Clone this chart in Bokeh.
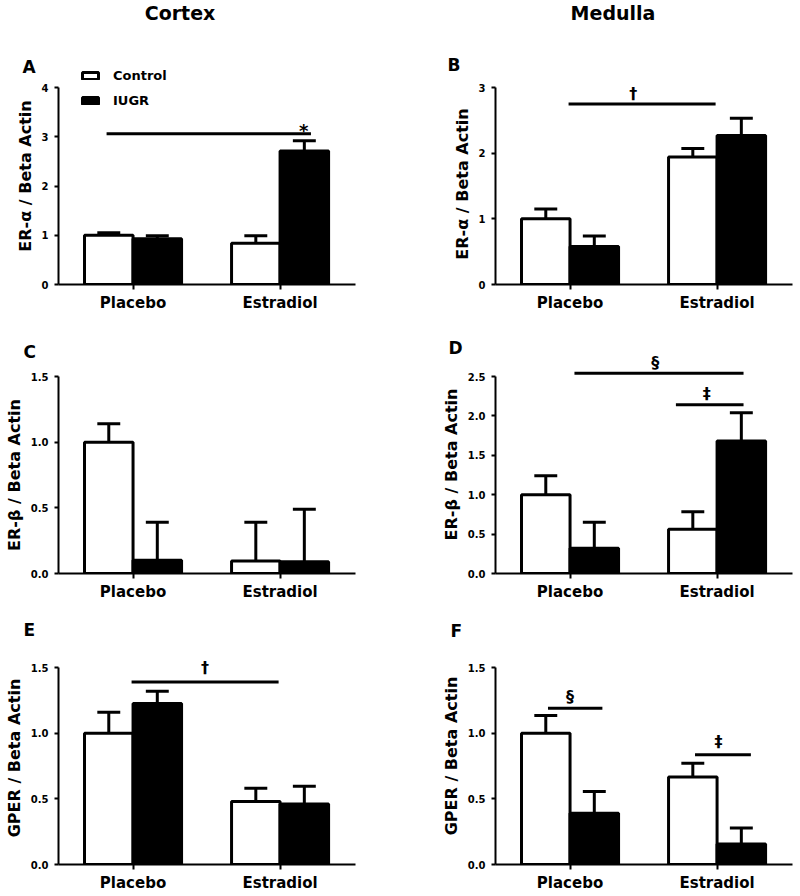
from bokeh.plotting import figure
from bokeh.layouts import column, row
from bokeh.models import (ColumnDataSource, FixedTicker, Label, Legend, LegendItem,
                          NumeralTickFormatter, Range1d, Title, Div)
from bokeh.embed import file_html
from bokeh.resources import INLINE

# ---------------- data ----------------
groups = ["Placebo", "Estradiol"]
series = ["Control", "IUGR"]
col_titles = ["Cortex", "Medulla"]

# A: ER-alpha, cortex
a_control = [1.00, 0.84]
a_control_sem = [0.05, 0.15]
a_iugr = [0.93, 2.71]
a_iugr_sem = [0.06, 0.21]
a_yticks = [0, 1, 2, 3, 4]
a_sig_lines = [(0.82, 2.21, 3.06)]
a_sig_marks = [("*", 2.16, 3.13)]

# B: ER-alpha, medulla
b_control = [1.00, 1.94]
b_control_sem = [0.15, 0.13]
b_iugr = [0.58, 2.27]
b_iugr_sem = [0.16, 0.26]
b_yticks = [0, 1, 2, 3]
b_sig_lines = [(0.99, 1.99, 2.75)]
b_sig_marks = [("†", 1.43, 2.91)]

# C: ER-beta, cortex
c_control = [1.00, 0.095]
c_control_sem = [0.14, 0.295]
c_iugr = [0.10, 0.09]
c_iugr_sem = [0.29, 0.40]
c_yticks = [0.0, 0.5, 1.0, 1.5]
c_sig_lines = []
c_sig_marks = []

# D: ER-beta, medulla
d_control = [1.00, 0.56]
d_control_sem = [0.24, 0.225]
d_iugr = [0.32, 1.68]
d_iugr_sem = [0.33, 0.36]
d_yticks = [0.0, 0.5, 1.0, 1.5, 2.0, 2.5]
d_sig_lines = [(1.03, 2.18, 2.54), (1.72, 2.18, 2.14)]
d_sig_marks = [("§", 1.58, 2.68), ("‡", 1.93, 2.29)]

# E: GPER, cortex
e_control = [1.00, 0.48]
e_control_sem = [0.16, 0.10]
e_iugr = [1.225, 0.46]
e_iugr_sem = [0.095, 0.135]
e_yticks = [0.0, 0.5, 1.0, 1.5]
e_sig_lines = [(0.99, 1.99, 1.39)]
e_sig_marks = [("†", 1.49, 1.50)]

# F: GPER, medulla
f_control = [1.00, 0.666]
f_control_sem = [0.135, 0.104]
f_iugr = [0.39, 0.157]
f_iugr_sem = [0.165, 0.12]
f_yticks = [0.0, 0.5, 1.0, 1.5]
f_sig_lines = [(0.85, 1.22, 1.19), (1.85, 2.23, 0.835)]
f_sig_marks = [("§", 1.00, 1.28), ("‡", 2.01, 0.936)]

panels = [
    dict(letter="A", ylabel="ER-α / Beta Actin", yticks=a_yticks, fmt="0",
         ctrl=a_control, ctrl_sem=a_control_sem, iugr=a_iugr, iugr_sem=a_iugr_sem,
         lines=a_sig_lines, marks=a_sig_marks, col=0, row=0),
    dict(letter="B", ylabel="ER-α / Beta Actin", yticks=b_yticks, fmt="0",
         ctrl=b_control, ctrl_sem=b_control_sem, iugr=b_iugr, iugr_sem=b_iugr_sem,
         lines=b_sig_lines, marks=b_sig_marks, col=1, row=0),
    dict(letter="C", ylabel="ER-β / Beta Actin", yticks=c_yticks, fmt="0.0",
         ctrl=c_control, ctrl_sem=c_control_sem, iugr=c_iugr, iugr_sem=c_iugr_sem,
         lines=c_sig_lines, marks=c_sig_marks, col=0, row=1),
    dict(letter="D", ylabel="ER-β / Beta Actin", yticks=d_yticks, fmt="0.0",
         ctrl=d_control, ctrl_sem=d_control_sem, iugr=d_iugr, iugr_sem=d_iugr_sem,
         lines=d_sig_lines, marks=d_sig_marks, col=1, row=1),
    dict(letter="E", ylabel="GPER / Beta Actin", yticks=e_yticks, fmt="0.0",
         ctrl=e_control, ctrl_sem=e_control_sem, iugr=e_iugr, iugr_sem=e_iugr_sem,
         lines=e_sig_lines, marks=e_sig_marks, col=0, row=2),
    dict(letter="F", ylabel="GPER / Beta Actin", yticks=f_yticks, fmt="0.0",
         ctrl=f_control, ctrl_sem=f_control_sem, iugr=f_iugr, iugr_sem=f_iugr_sem,
         lines=f_sig_lines, marks=f_sig_marks, col=1, row=2),
]

# ---------------- layout / style ----------------
FONT = "DejaVu Sans"
FRAME_H = 197
BAR_W = 0.33
CAP = 0.078
HEAD_H = 26
col_geom = [dict(width=400, left=58, right=45), dict(width=400, left=95, right=8)]
row_geom = [dict(height=288, top=61, bottom=30),
            dict(height=289, top=62, bottom=30),
            dict(height=291, top=64, bottom=30)]
# extra frame space above the axis top (px), letter offset / standoff
extra = {"A": 20, "B": 4, "C": 0, "D": 21, "E": 16, "F": 20}
letter_geom = {"A": (-36, -20), "B": (-48, 16), "C": (-35, 28),
               "D": (-47, -7), "E": (-35, 22), "F": (-45, 12)}


def make_panel(pp):
    cg = col_geom[pp["col"]]
    rg = row_geom[pp["row"]]
    ex = extra[pp["letter"]]
    ymax = pp["yticks"][-1]
    p = figure(width=cg["width"], height=rg["height"],
               min_border_left=cg["left"], min_border_right=cg["right"],
               min_border_top=rg["top"] - ex, min_border_bottom=rg["bottom"],
               x_range=Range1d(0.493, 2.513),
               y_range=Range1d(0, ymax * (FRAME_H + ex) / FRAME_H),
               output_backend="svg", toolbar_location=None)
    p.frame_align = False
    p.outline_line_color = None
    p.xgrid.visible = False
    p.ygrid.visible = False

    centers = [i + 1 for i in range(len(groups))]
    xc = [c - BAR_W / 2 for c in centers]
    xi = [c + BAR_W / 2 for c in centers]
    src_c = ColumnDataSource(dict(x=xc, top=pp["ctrl"],
                                  up=[v + s for v, s in zip(pp["ctrl"], pp["ctrl_sem"])],
                                  cl=[x - CAP for x in xc], cr=[x + CAP for x in xc]))
    src_i = ColumnDataSource(dict(x=xi, top=pp["iugr"],
                                  up=[v + s for v, s in zip(pp["iugr"], pp["iugr_sem"])],
                                  cl=[x - CAP for x in xi], cr=[x + CAP for x in xi]))
    rc = p.vbar(x="x", top="top", bottom=0, width=BAR_W, source=src_c,
                fill_color="white", line_color="black", line_width=3)
    ri = p.vbar(x="x", top="top", bottom=0, width=BAR_W, source=src_i,
                fill_color="black", line_color="black", line_width=3)
    for src in (src_c, src_i):
        p.segment(x0="x", y0="top", x1="x", y1="up", source=src,
                  line_color="black", line_width=3)
        p.segment(x0="cl", y0="up", x1="cr", y1="up", source=src,
                  line_color="black", line_width=3)

    if pp["lines"]:
        p.segment(x0=[l[0] for l in pp["lines"]], x1=[l[1] for l in pp["lines"]],
                  y0=[l[2] for l in pp["lines"]], y1=[l[2] for l in pp["lines"]],
                  line_color="black", line_width=3)
    for sym, sx, sy in pp["marks"]:
        p.add_layout(Label(x=sx, y=sy, text=sym, text_font=FONT, text_font_style="bold",
                           text_font_size="18px" if sym == "*" else "16px",
                           text_align="center", text_baseline="middle", text_color="black"))

    # axes
    xa = p.xaxis[0]
    xa.ticker = FixedTicker(ticks=centers)
    xa.major_label_overrides = {c: g for c, g in zip(centers, groups)}
    xa.axis_line_width = 2
    xa.major_tick_line_width = 2
    xa.major_tick_out = 5
    xa.major_tick_in = 0
    xa.minor_tick_out = 0
    xa.minor_tick_in = 0
    xa.major_label_standoff = 4
    xa.major_label_text_font = FONT
    xa.major_label_text_font_style = "bold"
    xa.major_label_text_font_size = "15px"
    xa.major_label_text_color = "black"

    ya = p.yaxis[0]
    ya.ticker = FixedTicker(ticks=pp["yticks"])
    ya.formatter = NumeralTickFormatter(format=pp["fmt"])
    ya.bounds = (0, ymax)
    ya.axis_line_width = 2
    ya.major_tick_line_width = 2
    ya.major_tick_out = 4
    ya.major_tick_in = 0
    ya.minor_tick_out = 0
    ya.minor_tick_in = 0
    ya.major_label_standoff = 6
    ya.major_label_text_font = FONT
    ya.major_label_text_font_style = "bold"
    ya.major_label_text_font_size = "10px"
    ya.major_label_text_color = "black"
    ya.axis_label = pp["ylabel"]
    ya.axis_label_text_font = FONT
    ya.axis_label_text_font_style = "bold"
    ya.axis_label_text_font_size = "16px"
    ya.axis_label_text_color = "black"
    ya.axis_label_standoff = 4

    off, so = letter_geom[pp["letter"]]
    p.add_layout(Title(text=pp["letter"], align="left", offset=off, standoff=so,
                       vertical_align="middle", text_font=FONT, text_font_style="bold",
                       text_font_size="17px", text_color="black"), "above")

    if pp["letter"] == "A":
        legend = Legend(items=[LegendItem(label=series[0], renderers=[rc]),
                               LegendItem(label=series[1], renderers=[ri])],
                        location=(22, 176), orientation="vertical",
                        glyph_width=20, glyph_height=9, label_height=15, spacing=10,
                        padding=0, margin=0, label_standoff=13,
                        label_text_font=FONT, label_text_font_style="bold",
                        label_text_font_size="13px", label_text_color="black",
                        border_line_color=None, background_fill_alpha=0)
        p.add_layout(legend)
    return p


head_style = {"font-family": FONT, "font-weight": "bold", "font-size": "19px",
              "text-align": "center", "line-height": "%dpx" % HEAD_H, "color": "black"}
head_c = Div(text=col_titles[0], width=360, height=HEAD_H, margin=(0, 40, 0, 0),
             styles=head_style)
head_m = Div(text=col_titles[1], width=374, height=HEAD_H, margin=(0, 0, 0, 26),
             styles=head_style)

figs = [make_panel(pp) for pp in panels]
layout = column(row(head_c, head_m),
                row(figs[0], figs[1]), row(figs[2], figs[3]), row(figs[4], figs[5]))

open("out.html", "w").write(file_html(layout, INLINE))
